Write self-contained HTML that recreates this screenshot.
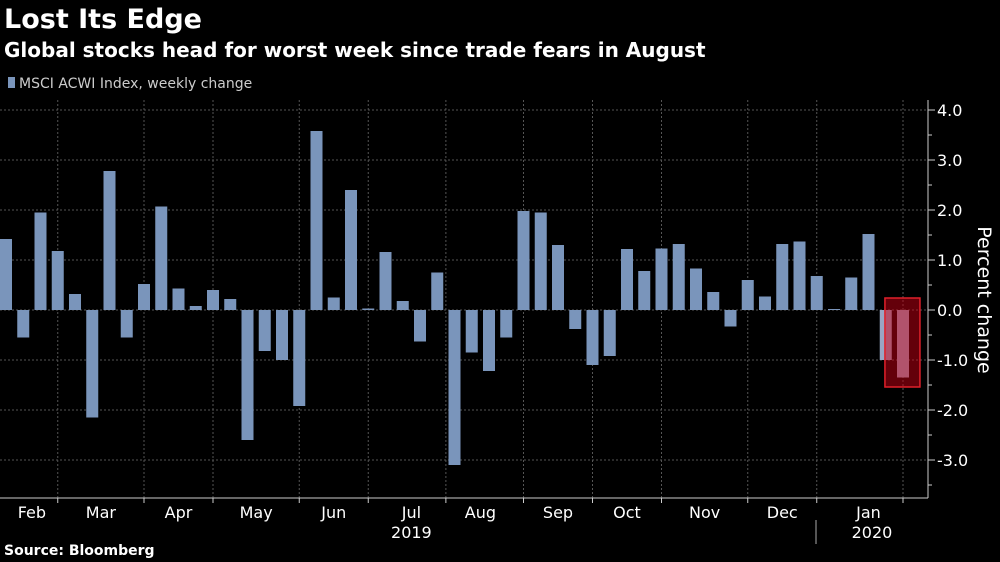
<!DOCTYPE html>
<html><head><meta charset="utf-8"><style>
body{margin:0;background:#000;width:1000px;height:562px;overflow:hidden;font-family:"DejaVu Sans","Liberation Sans",sans-serif;color:#fff}
.t{position:absolute;white-space:nowrap}
</style></head><body>
<div class="t" style="left:4px;top:4px;font-size:27px;font-weight:bold">Lost Its Edge</div>
<div class="t" style="left:4px;top:38px;font-size:20px;font-weight:bold">Global stocks head for worst week since trade fears in August</div>
<div class="t" style="left:8px;top:76px;font-size:14px;color:#ccc"><span style="display:inline-block;width:7px;height:11px;background:#7a95bb;margin-right:4px"></span>MSCI ACWI Index, weekly change</div>
<div class="t" style="left:4px;top:543px;font-size:14px;font-weight:bold">Source: Bloomberg</div>
<svg id="c" width="1000" height="562" style="position:absolute;left:0;top:0;font-family:'DejaVu Sans','Liberation Sans',sans-serif"></svg>
<script>
const values=[1.42,-0.55,1.95,1.18,0.32,-2.15,2.78,-0.55,0.52,2.07,0.43,0.08,0.40,0.22,-2.6,-0.82,-1.0,-1.92,3.58,0.25,2.4,0.03,1.16,0.18,-0.63,0.75,-3.1,-0.85,-1.22,-0.55,1.98,1.95,1.3,-0.38,-1.1,-0.92,1.22,0.78,1.23,1.32,0.83,0.36,-0.33,0.6,0.27,1.32,1.37,0.68,0.02,0.65,1.52,-1.0,-1.35];
const yTicks=[4,3,2,1,0,-1,-2,-3];
const months=["Feb","Mar","Apr","May","Jun","Jul","Aug","Sep","Oct","Nov","Dec","Jan"];
const monthIdx=[1.5,5.5,10,14.5,19,23.5,27.5,32,36,40.5,45,50];
const gridIdx=[3,8,12,17,21,25.5,30,34,38,43,47,52];
const years=["2019","2020"];
const yearIdx=[23.5,50.2];
const highlight=[51.3,53.33];
const NS="http://www.w3.org/2000/svg",svg=document.getElementById('c');
const y=v=>310-v*50, xL=i=>i*17.25, bw=12;
const xc=i=>xL(i)+bw/2;
function mk(t,a){const e=document.createElementNS(NS,t);for(const k in a)e.setAttribute(k,a[k]);svg.appendChild(e);return e;}
yTicks.forEach(v=>{
 const g=mk('line',{x1:0,x2:928,y1:y(v),y2:y(v),stroke:'#555','stroke-dasharray':'2,2'});
 
 
 const tk=mk('line',{x1:928,x2:935,y1:y(v),y2:y(v),stroke:'#ccc'});
 
 
 const t=mk('text',{x:937,y:y(v)+6,fill:'#fff','font-size':16});
 t.textContent=v.toFixed(1);
 
 
});
for(let v=-3.5;v<4;v+=1){const m=mk('line',{x1:928,x2:932,y1:y(v),y2:y(v),stroke:'#ccc'});
 
 }
gridIdx.forEach(i=>{const x=xc(i);
 const g=mk('line',{x1:x,x2:x,y1:100,y2:498,stroke:'#555','stroke-dasharray':'2,2'});
 
 
 const tk=mk('line',{x1:x,x2:x,y1:498,y2:503,stroke:'#ccc'});
 
 });
values.forEach((v,i)=>{
 const r=mk('rect',{x:xL(i),y:Math.min(y(v),y(0)),width:bw,height:Math.max(Math.abs(y(v)-y(0)),0.8),fill:i>=51?'#9aa6c4':'#7a95bb'});
 
 
});
const hb=mk('rect',{x:xL(highlight[0]),y:298,width:(highlight[1]-highlight[0])*17.25,height:89,fill:'rgba(200,0,20,0.5)',stroke:'#e0202a','stroke-width':1.5});


const ax=mk('line',{x1:928,x2:928,y1:100,y2:498,stroke:'#ccc'});


const bx=mk('line',{x1:0,x2:928,y1:498,y2:498,stroke:'#ccc'});


months.forEach((m,k)=>{const t=mk('text',{x:xc(monthIdx[k]),y:518,fill:'#fff','font-size':16,'text-anchor':'middle'});
 t.textContent=m;
 
 });
years.forEach((m,k)=>{const t=mk('text',{x:xc(yearIdx[k]),y:538,fill:'#fff','font-size':16,'text-anchor':'middle'});
 t.textContent=m;
 
 });
const sep=mk('line',{x1:816,x2:816,y1:520,y2:544,stroke:'#aaa'});


const yt=mk('text',{x:0,y:0,fill:'#fff','font-size':19,'text-anchor':'middle',transform:'translate(978,300) rotate(90)'});
yt.textContent='Percent change';


</script>
</body></html>
